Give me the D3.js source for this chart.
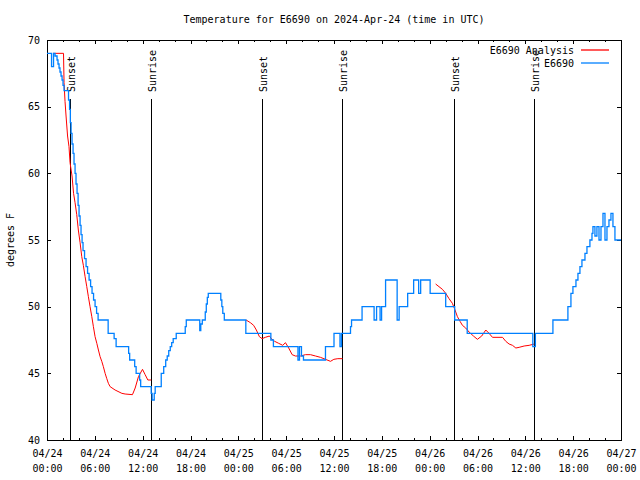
<!DOCTYPE html>
<html><head><meta charset="utf-8">
<script src="https://cdn.jsdelivr.net/npm/d3@7"></script>
<style>
body{margin:0;background:#fff}
text{font-family:"DejaVu Sans Mono",monospace;font-size:10px;fill:#000}
</style>
</head><body><svg id="c" width="640" height="480"></svg>
<script>
// ---- data (hours since 2024-04-24 00:00 UTC) ----
const titleText = "Temperature for E6690 on 2024-Apr-24 (time in UTC)";
const yLabel = "degrees F";
const seriesNames = ["E6690 Analysis", "E6690"];
const seriesColors = ["#ff0000", "#0080ff"];
const yTicks = [40, 45, 50, 55, 60, 65, 70];

const blueHours = [
 0, 0.57, 0.82, 1.01, 1.26, 1.38, 1.51, 1.63, 1.76, 1.89,
 2.01, 2.14, 2.70, 2.83, 2.93, 3.02, 3.14, 3.27, 3.39, 3.52,
 3.64, 3.77, 3.90, 4.02, 4.15, 4.27, 4.40, 4.52, 4.71, 4.90,
 5.09, 5.28, 5.47, 5.65, 5.84, 6.03, 6.22, 6.41, 7.67, 8.42,
 8.67, 10.24, 10.37, 11.00, 11.18, 11.62, 11.75, 13.07, 13.19, 13.45,
 13.57, 14.33, 14.64, 14.89, 15.08, 15.27, 15.46, 15.64, 15.83, 16.21,
 17.34, 17.47, 19.16, 19.29, 19.48, 19.85, 19.98, 20.11, 20.23, 21.80,
 21.93, 22.05, 22.24, 24.94, 28.08, 28.40, 31.48, 31.67, 31.92, 32.17,
 34.93, 36.00, 36.75, 36.94, 38.07, 38.20, 39.52, 41.03, 41.34, 41.78,
 41.97, 42.47, 43.92, 44.17, 45.24, 45.99, 46.62, 46.87, 48.06, 50.01,
 51.14, 52.71, 60.94, 61.26, 63.46, 65.34, 65.72, 65.97, 66.35, 66.60,
 66.85, 67.10, 67.48, 67.73, 68.10, 68.36, 68.48, 68.73, 68.98, 69.24,
 69.49, 69.74, 69.99, 70.24, 70.49, 70.74, 70.99, 71.24, 72.0
];
const blueTemps = [
 69, 68, 69, 68.8, 68.5, 68.2, 67.9, 67.6, 67.3, 67.0,
 66.6, 66.2, 65.5, 64.8, 63.8, 63.0, 62.2, 61.5, 60.7, 60.0,
 59.2, 58.5, 57.6, 56.8, 56.1, 55.4, 54.8, 54.2, 53.6, 53.0,
 52.5, 52.0, 51.5, 51.0, 50.5, 50.0, 49.5, 49, 48, 47.6,
 47, 46.5, 46, 45.5, 45, 44.5, 44, 43.5, 43, 43.5,
 44, 45, 45.5, 46, 46.3, 46.7, 47, 47.3, 47.6, 48,
 48.5, 49, 48.2, 48.7, 49, 49.6, 50.2, 50.7, 51, 50.5,
 50, 49.5, 49, 48, 47.5, 47, 46, 47, 46.3, 46,
 47, 48, 47, 48, 48.5, 49, 50, 49, 50, 49,
 50, 52, 49, 50, 51, 52, 51, 52, 51, 50,
 49, 48, 47, 48, 49, 50, 51, 51.5, 52, 52.5,
 53, 53.5, 54, 54.5, 55, 55.5, 56, 55.3, 56, 55,
 56, 57, 55, 56, 56.5, 57, 56, 55, 55
];

const redHours = [
 0.75, 2.07, 2.14, 2.26, 2.39, 2.58, 2.76, 2.89, 3.14, 3.33,
 3.52, 3.73, 3.93, 4.15, 4.36, 4.56, 4.78, 4.99, 5.19, 5.40,
 5.62, 5.82, 6.03, 6.25, 6.45, 6.66, 6.87, 7.07, 7.29, 7.50,
 7.70, 7.92, 8.54, 9.39, 9.80, 10.72, 11.06, 11.47, 11.98, 12.31,
 12.65, 13.07, 18,
 24.97, 25.51, 25.92, 26.26, 26.64, 26.98, 27.39, 27.90, 28.15, 28.56,
 29.06, 29.57, 29.91, 30.32, 30.75, 31.16, 31.79, 32.42, 33.05, 33.68,
 34.30, 34.93, 35.56, 35.98, 36.48, 37.07, 43,
 48.75, 49.17, 49.60, 50.01, 50.43, 50.85, 51.18, 51.48, 51.81, 52.11,
 52.52, 52.94, 53.49, 53.99, 54.53, 55.04, 55.45, 55.88, 57.14, 57.55,
 57.96, 58.39, 58.81, 59.22, 59.85, 60.48, 61.11
];
const redTemps = [
 69, 69, 66.8, 65.4, 64.3, 62.8, 62, 60.8, 59.8, 58.5,
 57.8, 56.9, 55.75, 54.8, 53.75, 53.1, 52.25, 51.5, 50.75, 50,
 49.25, 48.5, 47.75, 47.25, 46.75, 46.25, 45.9, 45.5, 45, 44.6,
 44.25, 44, 43.75, 43.5, 43.45, 43.4, 43.9, 44.75, 45.3, 44.9,
 44.5, 44.5, null,
 49, 48.8, 48.6, 48.25, 47.75, 47.6, 47.7, 47.8, 47.6, 47.4,
 47.25, 47.1, 47.3, 46.9, 46.4, 46.3, 46.3, 46.4, 46.4, 46.3,
 46.2, 46.05, 45.9, 46.05, 46.1, 46.1, null,
 51.7, 51.5, 51.3, 51.0, 50.6, 50.25, 49.75, 49.25, 48.9, 48.6,
 48.4, 48.1, 47.8, 47.55, 47.8, 48.25, 48.0, 47.7, 47.7, 47.4,
 47.2, 47.1, 46.9, 46.95, 47.05, 47.1, 47.2
];

const sunLabels = ["Sunset", "Sunrise", "Sunset", "Sunrise", "Sunset", "Sunrise"];
const sunHours = [2.92, 13.08, 27.01, 37.04, 51.09, 61.13];

// ---- chart ----
const t0 = Date.UTC(2024, 3, 24, 0, 0);
const toDate = h => new Date(t0 + h * 3600000);
const start = toDate(0), end = toDate(72);

const svg = d3.select("#c");
const L = 47, R = 621, T = 40, B = 440;
const x = d3.scaleUtc().domain([start, end]).range([L, R]);
const y = d3.scaleLinear().domain([40, 70]).range([B, T]);

const majorX = d3.utcHour.every(6).range(start, toDate(72.01));
const minorX = d3.utcHour.every(2).range(start, toDate(72.01)).filter(d => d.getUTCHours() % 6 !== 0);

function clean(g){ g.select(".domain").remove(); g.selectAll("line").attr("stroke","#000").attr("shape-rendering","crispEdges"); }

// bottom
svg.append("g").attr("transform", `translate(0,${B})`)
  .call(d3.axisBottom(x).tickValues(majorX).tickSize(-4).tickFormat(""))
  .call(clean)
  .call(g => g.selectAll(".tick").each(function(d){
    const t = d3.select(this).append("text").attr("text-anchor","middle").attr("fill","#000");
    t.append("tspan").attr("x",0).attr("y",17).text(d3.utcFormat("%m/%d")(d));
    t.append("tspan").attr("x",0).attr("y",32).text(d3.utcFormat("%H:%M")(d));
  }));
svg.append("g").attr("transform", `translate(0,${B})`)
  .call(d3.axisBottom(x).tickValues(minorX).tickSize(-2).tickFormat("")).call(clean);
// top
svg.append("g").attr("transform", `translate(0,${T})`)
  .call(d3.axisTop(x).tickValues(majorX).tickSize(-4).tickFormat("")).call(clean);
svg.append("g").attr("transform", `translate(0,${T})`)
  .call(d3.axisTop(x).tickValues(minorX).tickSize(-2).tickFormat("")).call(clean);
// left
svg.append("g").attr("transform", `translate(${L},0)`)
  .call(d3.axisLeft(y).tickValues(yTicks).tickSize(-4).tickPadding(7).tickFormat(d3.format("d")))
  .call(clean)
  .call(g => g.selectAll("text").attr("fill","#000"));
// right
svg.append("g").attr("transform", `translate(${R},0)`)
  .call(d3.axisRight(y).tickValues(yTicks).tickSize(-4).tickFormat("")).call(clean);

svg.selectAll("g").attr("font-family", null).attr("font-size", null);

// frame
svg.append("rect").attr("x", L + 0.5).attr("y", T + 0.5).attr("width", R - L).attr("height", B - T)
  .attr("fill","none").attr("stroke","#000").attr("shape-rendering","crispEdges");

// sunrise/sunset lines
const sun = svg.append("g");
sunHours.forEach((h, i) => {
  const xx = Math.round(x(toDate(h))) + 0.5;
  sun.append("line").attr("x1", xx).attr("x2", xx).attr("y1", 99).attr("y2", B)
    .attr("stroke","#000").attr("shape-rendering","crispEdges");
  sun.append("text").attr("transform", `translate(${xx + 4},92) rotate(-90)`)
    .attr("text-anchor","start").text(sunLabels[i]);
});

// series
const redData = redHours.map((h, i) => ({t: toDate(h), v: redTemps[i]}));
const blueData = blueHours.map((h, i) => ({t: toDate(h), v: blueTemps[i]}));

svg.append("path").datum(redData)
  .attr("d", d3.line().defined(d => d.v != null).x(d => x(d.t)).y(d => y(d.v)))
  .attr("fill","none").attr("stroke", seriesColors[0]).attr("stroke-width", 1);
svg.append("path").datum(blueData)
  .attr("d", d3.line().curve(d3.curveStepAfter).x(d => x(d.t)).y(d => y(d.v)))
  .attr("fill","none").attr("stroke", seriesColors[1]).attr("stroke-width", 1.3);

// title, labels
svg.append("text").attr("x", 334).attr("y", 23).attr("text-anchor","middle").text(titleText);
svg.append("text").attr("transform","translate(14,240) rotate(-90)").attr("text-anchor","middle").text(yLabel);

// legend
seriesNames.forEach((n, i) => {
  const yy = 50 + i * 13;
  svg.append("text").attr("x", 574).attr("y", yy + 4).attr("text-anchor","end").text(n);
  svg.append("line").attr("x1", 581).attr("x2", 609).attr("y1", yy).attr("y2", yy)
    .attr("stroke", seriesColors[i]).attr("stroke-width", 1.3);
});
</script></body></html>
